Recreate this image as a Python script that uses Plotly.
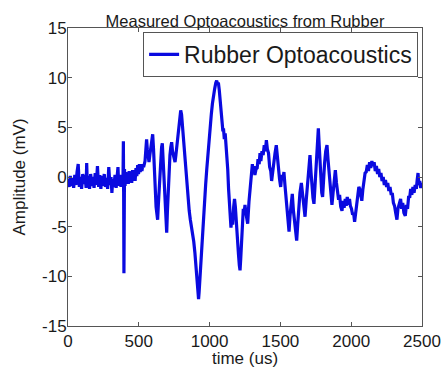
import plotly.graph_objects as go

# Data (time in us, amplitude in mV)
baseline_t = [0, 8, 16, 24, 32, 40, 48, 56, 64, 72, 80, 88, 96, 104, 112, 120, 128, 132, 136, 144,
              152, 160, 168, 176, 184, 192, 200, 208, 216, 224, 232, 240, 248, 256, 264, 272, 280,
              288, 296, 304, 310, 316, 324, 332, 340, 348, 353, 358, 366, 374, 382, 388]
baseline_v = [-0.2, -1.0, 0.1, -0.9, -0.1, -1.1, 0.2, -0.8, 0.5, 1.3, -1.0, 0.0, -1.2, 0.3, -0.7, 0.2,
              -1.1, 1.4, -0.6, 0.1, -1.2, 0.3, -0.9, 0.0, -1.1, 0.4, -0.8, 1.1, -1.0, 0.2, -1.2, 0.1,
              -0.9, 0.3, -1.0, -0.1, -1.2, 1.0, -0.8, 0.0, -1.6, -0.2, -1.0, 0.2, -1.1, 0.1, 1.0, -0.9,
              0.2, -1.0, 0.0, -0.8]

spike_t = [391, 393, 395, 397, 399, 403, 408, 414, 420, 426, 432, 438, 444, 450, 456, 462, 468, 474,
           480, 486, 492, 498, 504, 510, 516, 522, 528, 534]
spike_v = [3.6, -1.5, -9.7, -4.0, 0.8, -0.9, 0.5, -0.6, 0.3, -0.7, 0.6, -0.4, 0.4, -0.6, 0.7, -0.3,
           0.5, -0.4, 0.9, 0.1, 1.2, 0.3, 1.3, 0.5, 1.3, 0.6, 1.2, 1.0]

main_t = [544, 550, 555, 560, 566, 572, 578, 585, 592, 598, 604, 610, 616, 622, 627, 633, 638, 644,
          650, 656, 661, 666, 672, 678, 684, 690, 697, 702, 708, 714, 720, 726, 732, 738, 744, 750,
          756, 762, 768, 776, 784, 790, 796, 802, 808, 816, 824, 832, 840, 848, 856, 864, 872, 880,
          888, 896, 904, 912, 918, 922, 926, 932, 940, 948, 956, 964, 972, 980, 988, 996, 1004,
          1012, 1020, 1028, 1036, 1044, 1050, 1056, 1062, 1068, 1074, 1080, 1088, 1094, 1098, 1104,
          1110, 1116, 1122, 1128, 1134, 1140, 1146, 1151, 1157, 1163, 1170, 1176, 1182, 1188, 1196,
          1204, 1210, 1215, 1220, 1226, 1232, 1238, 1244, 1250, 1256, 1262, 1269]
main_v = [1.6, 3.0, 3.8, 2.8, 1.8, 1.5, 2.2, 3.0, 3.6, 4.3, 2.8, 0.5, -1.5, -3.0, -3.6, -4.3, -2.8,
          -0.8, 1.0, 2.2, 3.0, 3.4, 1.8, -0.5, -2.6, -4.4, -5.6, -3.5, -1.2, 0.8, 2.2, 3.0, 3.5, 2.6,
          2.2, 1.8, 1.5, 2.2, 3.0, 4.4, 5.6, 6.3, 6.7, 6.3, 5.2, 3.6, 2.0, 0.4, -1.0, -2.3, -3.4,
          -4.3, -5.0, -5.8, -6.5, -7.6, -9.0, -10.6, -11.8, -12.3, -11.6, -10.0, -8.0, -6.0, -4.2,
          -2.5, -0.8, 0.8, 2.4, 3.8, 5.2, 6.3, 7.4, 8.4, 8.9, 9.5, 9.7, 9.4, 9.5, 8.8, 7.8, 6.6, 5.5,
          4.6, 4.9, 3.8, 4.4, 3.4, 2.4, 0.8, -1.2, -3.2, -4.6, -5.1, -4.0, -4.8, -3.0, -2.2, -3.0,
          -4.6, -6.2, -7.8, -8.9, -9.4, -8.2, -6.4, -4.8, -3.2, -3.6, -2.8, -3.6, -4.0, -4.7]

tail_t = [1278, 1286, 1292, 1296, 1302, 1308, 1314, 1320, 1328, 1336, 1342, 1350, 1356, 1362, 1370,
          1378, 1386, 1394, 1401, 1408, 1416, 1424, 1432, 1438, 1446, 1454, 1462, 1471, 1478, 1486,
          1494, 1502, 1510, 1518, 1525, 1532, 1540, 1548, 1555, 1561, 1568, 1576, 1584, 1592, 1600,
          1608, 1615, 1622, 1630, 1638, 1648, 1656, 1664, 1674, 1682, 1690, 1698, 1709, 1716, 1724,
          1730, 1737, 1744, 1750, 1756, 1762, 1768, 1774, 1780, 1786, 1792, 1798, 1804, 1812, 1820,
          1829, 1836, 1844, 1852, 1858, 1864, 1872, 1880, 1888, 1896, 1904, 1911, 1918, 1926, 1935,
          1942, 1950, 1958, 1965, 1972, 1980, 1988, 1994, 2002, 2010, 2017, 2024, 2032, 2040, 2048,
          2054, 2060, 2068, 2075, 2082, 2090, 2098, 2106, 2114, 2122, 2130, 2138, 2146, 2154, 2162,
          2170, 2178, 2186, 2194, 2202, 2210, 2218, 2226, 2234, 2242, 2250, 2258, 2266, 2274, 2283,
          2290, 2298, 2306, 2314, 2323, 2330, 2338, 2349, 2356, 2364, 2372, 2382, 2390, 2398, 2406,
          2413, 2420, 2428, 2436, 2444, 2452, 2460, 2466, 2472, 2478, 2484, 2491, 2496, 2500]
tail_v = [-2.5, -1.2, -0.2, 0.5, 1.3, 0.4, 1.1, 0.2, 0.8, 0.9, 1.8, 1.3, 2.4, 1.6, 2.6, 2.2, 3.2, 2.6,
          3.7, 2.8, 2.4, 1.0, 0.6, -0.4, 0.8, 1.5, 2.4, 3.2, 2.0, 1.3, -0.2, -1.0, 0.2, -0.2, 0.5,
          -0.8, -2.0, -3.5, -4.6, -5.5, -3.9, -2.6, -1.7, -3.4, -4.6, -5.6, -6.4, -4.8, -3.0, -1.6,
          -0.6, -1.8, -3.2, -4.0, -2.4, -0.8, 0.6, 2.2, 0.5, -1.2, -2.1, -2.7, -0.8, 1.0, 2.6, 4.0,
          4.9, 3.2, 1.2, -0.5, -1.6, -2.0, -0.2, 1.4, 2.6, 3.2, 1.8, 0.3, -1.4, -2.2, -2.8, -1.6,
          -0.3, 0.7, -0.6, -1.6, -2.3, -1.8, -3.0, -3.4, -2.4, -3.1, -2.2, -2.9, -2.0, -2.8, -2.2,
          -2.9, -3.2, -3.8, -3.6, -4.5, -3.6, -2.6, -1.6, -1.0, -1.2, -2.0, -2.4, -1.3, -0.4, 0.4,
          0.5, 1.2, 0.6, 1.5, 0.9, 1.6, 1.1, 1.5, 0.6, 1.1, 0.3, 0.8, 0.0, 0.4, -0.4, 0.0, -0.8,
          -0.3, -1.0, -0.6, -1.4, -1.0, -1.8, -1.6, -2.6, -2.9, -3.6, -4.3, -3.2, -2.6, -2.2, -3.2,
          -2.6, -3.6, -3.9, -2.8, -3.2, -1.9, -2.1, -1.2, -1.8, -1.0, -1.6, -0.8, -1.2, -0.3, 0.4,
          -0.8, -0.4, -1.1, -0.6, -0.9]

time_us = baseline_t + spike_t + main_t + tail_t
amplitude_mv = baseline_v + spike_v + main_v + tail_v

x_ticks = [0, 500, 1000, 1500, 2000, 2500]
y_ticks = [-15, -10, -5, 0, 5, 10, 15]

FONT = "Liberation Sans, Arial, sans-serif"

fig = go.Figure()
fig.add_trace(go.Scatter(
    x=time_us, y=amplitude_mv, mode="lines", name="Rubber Optoacoustics",
    line=dict(color="#0a0ae0", width=3.2),
))

axis_common = dict(
    showgrid=False, zeroline=False, showline=True, linecolor="#555555", linewidth=1,
    mirror="ticks", ticks="inside", ticklen=4, tickcolor="#555555", automargin=False,
    tickfont=dict(family=FONT, size=17, color="#1a1a1a"),
)

fig.update_layout(
    width=443, height=368,
    margin=dict(l=68, r=21, t=28, b=42),
    paper_bgcolor="white", plot_bgcolor="white",
    font=dict(family=FONT, color="#1a1a1a"),
    title=dict(text="Measured Optoacoustics from Rubber", x=0.5, xref="paper", xanchor="center",
               y=1, yref="paper", yanchor="bottom", pad=dict(b=1),
               font=dict(family=FONT, size=16.5, color="#1a1a1a")),
    xaxis=dict(range=[0, 2500], tickvals=x_ticks, ticktext=[str(v) for v in x_ticks],
               title=dict(text="time (us)", standoff=0, font=dict(family=FONT, size=17)),
               **axis_common),
    yaxis=dict(range=[-15, 15], tickvals=y_ticks, ticktext=[str(v) for v in y_ticks],
               ticklabelstandoff=-3,
               title=dict(text="Amplitude (mV)", standoff=12, font=dict(family=FONT, size=17)),
               **axis_common),
    showlegend=True,
    legend=dict(x=0.989, y=0.987, xanchor="right", yanchor="top",
                bgcolor="white", bordercolor="#555555", borderwidth=1,
                font=dict(family=FONT, size=23, color="#1a1a1a"),
                itemwidth=30, tracegroupgap=0),
)

fig.write_html("out.html")
